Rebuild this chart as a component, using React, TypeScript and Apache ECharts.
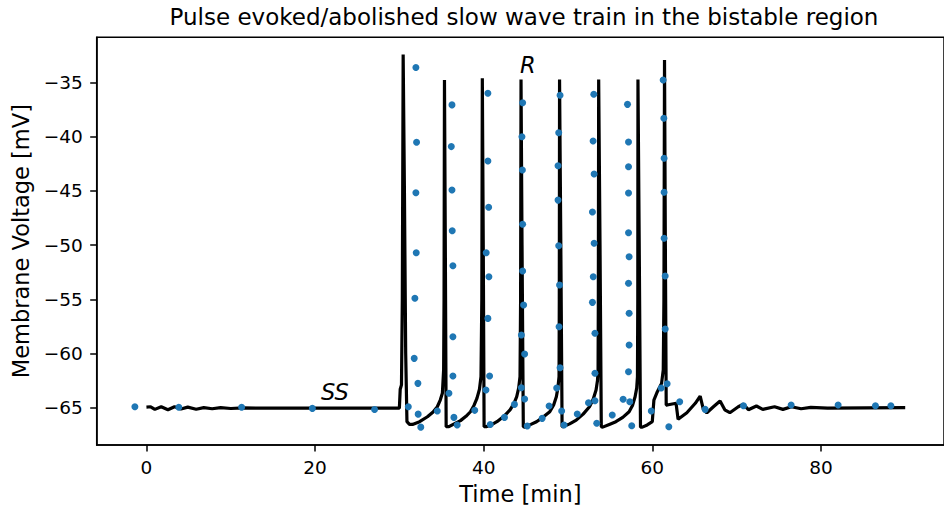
import React, { useEffect, useRef } from "react";
import * as echarts from "echarts";

// ---- data ----
const traceTime: number[] = [
  0.0, 0.5, 1.0, 1.75, 2.55, 3.33, 4.1, 4.9, 5.9, 6.8, 7.8, 8.8, 10.0, 11.5, 13.0, 30.0,
  30.1, 30.25, 30.35, 30.45, 30.6, 30.75, 30.9, 31.2, 31.56, 32.4, 33.33, 34.0, 34.5, 34.85, 35.1, 35.25, 35.3, 35.35, 35.45, 35.55,
  35.88, 36.5, 37.25, 37.9, 38.43, 38.85, 39.2, 39.5, 39.68, 39.78, 39.84, 39.95, 40.05,
  40.3, 41.0, 41.57, 42.4, 43.13, 43.6, 43.92, 44.15, 44.31, 44.38, 44.43, 44.55, 44.7,
  44.9, 45.6, 46.27, 47.1, 47.84, 48.3, 48.62, 48.8, 48.94, 48.97, 49.0, 49.15, 49.3,
  49.41, 50.2, 50.98, 51.8, 52.55, 53.0, 53.33, 53.5, 53.57, 53.6, 53.64, 53.8, 53.95,
  54.12, 54.9, 55.68, 56.5, 57.25, 57.65, 57.96, 58.15, 58.24, 58.28, 58.3, 58.45, 58.6,
  58.82, 59.4, 60.0, 60.07, 60.19, 60.6, 61.1, 61.3, 61.38, 61.45, 61.55, 61.65,
  61.76, 62.82, 63.06, 64.1, 65.1, 65.68, 66.07, 66.47, 67.25, 68.04, 68.6, 69.2, 70.2, 70.8, 71.4,
  72.35, 73.1, 74.5, 75.5, 76.5, 77.65, 78.8, 80.8, 90.0,
];
const traceVoltage: number[] = [
  -64.95, -64.92, -65.16, -64.92, -65.2, -64.92, -65.12, -64.95, -65.15, -65.0, -65.1, -65.0, -65.08, -65.02, -65.05, -65.05,
  -63.3, -62.9, -55, -32.4, -45, -60, -66.3, -66.55, -66.55, -66.3, -65.84, -65.4, -64.92, -64.3, -63.68, -61.5, -55, -34.75, -50, -66.76,
  -66.76, -66.5, -66.2, -65.8, -65.38, -64.8, -64.14, -63.3, -62.15, -55, -34.6, -50, -66.76,
  -66.76, -66.55, -66.3, -65.8, -65.2, -64.6, -63.99, -63.2, -62.15, -55, -34.7, -50, -66.76,
  -66.8, -66.55, -66.3, -65.85, -65.38, -64.75, -64.0, -63.2, -62.15, -55, -34.7, -50, -66.76,
  -66.76, -66.5, -66.15, -65.6, -64.92, -64.2, -63.38, -62.5, -61.53, -55, -34.7, -50, -66.76,
  -66.8, -66.55, -66.3, -65.9, -65.38, -64.8, -64.0, -63.2, -62.15, -55, -34.7, -50, -66.8,
  -66.8, -66.6, -66.3, -66.3, -64.3, -63.53, -62.76, -61.53, -55, -32.9, -50, -64.76,
  -64.76, -64.6, -66.08, -65.47, -64.6, -63.93, -65.2, -65.47, -64.92, -64.39, -65.2, -65.47, -64.92, -64.67, -65.2,
  -64.85, -65.16, -64.92, -65.16, -64.92, -65.1, -64.98, -65.05, -65.0,
];

const sampleTime: number[] = [
  -1.37, 3.84, 11.29, 19.68, 27.06,
  31.06, 31.96, 32.04, 31.96, 32.0, 31.84, 31.76, 32.2, 32.23, 32.54, 34.5, 35.88,
  36.24, 36.16, 36.24, 36.27, 36.35, 36.35, 36.35, 36.47, 36.86, 38.94,
  40.5, 40.5, 40.59, 40.3, 40.62, 40.5, 40.7, 40.27, 40.78, 42.47, 43.65,
  44.62, 44.54, 44.59, 44.62, 44.62, 44.74, 44.47, 44.86, 44.47, 44.86, 45.17, 46.94, 47.76,
  49.06, 48.9, 48.82, 48.82, 48.9, 49.0, 48.94, 49.06, 48.66, 49.25, 49.53, 51.1, 52.43,
  53.06, 52.98, 53.1, 52.9, 53.1, 53.0, 52.9, 53.2, 53.2, 53.2, 53.41, 55.25, 56.54,
  57.06, 57.18, 57.18, 57.18, 57.18, 57.25, 57.18, 57.25, 57.25, 57.18, 57.33, 57.56, 59.88,
  61.29, 61.37, 61.4, 61.4, 61.4, 61.53, 61.53, 61.06, 61.76, 61.96, 63.25,
  66.27, 70.82, 76.47, 82.04, 86.47, 88.3,
];
const sampleVoltage: number[] = [
  -64.92, -64.97, -64.97, -65.07, -65.18,
  -64.92, -33.6, -40.5, -45.16, -50.7, -54.9, -60.45, -62.76, -65.6, -66.8, -65.31, -63.68,
  -37.05, -40.9, -44.9, -48.67, -51.9, -58.45, -62.08, -65.9, -66.6, -65.25,
  -35.98, -42.23, -46.5, -50.7, -52.91, -56.76, -62.08, -63.37, -66.55, -65.9, -64.7,
  -36.85, -39.99, -43.06, -48.07, -52.39, -55.53, -58.3, -60.05, -63.16, -64.2, -66.7, -65.99, -64.85,
  -36.16, -39.62, -42.67, -45.84, -50.05, -53.68, -57.53, -61.32, -63.19, -65.31, -66.6, -65.59, -64.55,
  -36.07, -40.38, -43.43, -46.94, -49.83, -52.91, -55.28, -58.14, -61.83, -64.36, -66.45, -65.68, -64.23,
  -37.0, -40.48, -42.76, -45.19, -48.85, -51.07, -53.52, -56.29, -59.22, -61.68, -64.45, -66.67, -65.31,
  -34.75, -38.29, -41.98, -45.12, -49.37, -52.85, -57.74, -63.19, -62.8, -66.76, -64.45,
  -65.16, -64.82, -64.76, -64.76, -64.82, -64.82,
];

const annotationText: string[] = ["SS", "R"];
const annotationTime: number[] = [22.35, 45.24];
const annotationVoltage: number[] = [-63.56, -33.37];

const xTicks: number[] = [0, 20, 40, 60, 80];
const yTicks: number[] = [-65, -60, -55, -50, -45, -40, -35];

const TITLE = "Pulse evoked/abolished slow wave train in the bistable region";
const X_LABEL = "Time [min]";
const Y_LABEL = "Membrane Voltage [mV]";

const FONT = "DejaVu Sans";

export default function App() {
  const ref = useRef<HTMLDivElement>(null);
  useEffect(() => {
    if (!ref.current) return;
    const chart = echarts.init(ref.current, undefined, { renderer: "svg" });
    const trace = traceTime.map((t, i) => [t, traceVoltage[i]]);
    const samples = sampleTime.map((t, i) => [t, sampleVoltage[i]]);
    const notes = annotationText.map((s, i) => ({
      name: s,
      value: [annotationTime[i], annotationVoltage[i]],
    }));
    const axisCommon = {
      axisLine: { show: true, onZero: false, lineStyle: { color: "#000", width: 1.5 } },
      splitLine: { show: false },
    };
    chart.setOption({
      animation: false,
      backgroundColor: "#fff",
      title: {
        text: TITLE,
        left: 524,
        top: 5,
        padding: 0,
        textAlign: "center",
        textStyle: { fontFamily: FONT, fontSize: 23, fontWeight: "normal", color: "#000" },
      },
      grid: {
        left: 96.7,
        top: 37.3,
        width: 854.2,
        height: 407.7,
        show: true,
        borderColor: "#000",
        borderWidth: 1.5,
        backgroundColor: "transparent",
      },
      xAxis: {
        type: "value",
        min: -5.9,
        max: 94.6,
        ...axisCommon,
        axisTick: { show: true, length: 6.5, lineStyle: { color: "#000", width: 1.5 }, customValues: xTicks },
        axisLabel: {
          customValues: xTicks,
          margin: 13,
          fontFamily: FONT,
          fontSize: 18.5,
          color: "#000",
        },
        name: X_LABEL,
        nameLocation: "middle",
        nameGap: 37,
        nameTextStyle: { fontFamily: FONT, fontSize: 22.5, color: "#000" },
      },
      yAxis: {
        type: "value",
        min: -68.45,
        max: -30.81,
        ...axisCommon,
        axisTick: { show: true, length: 6.5, lineStyle: { color: "#000", width: 1.5 }, customValues: yTicks },
        axisLabel: {
          customValues: yTicks,
          margin: 14,
          fontFamily: FONT,
          fontSize: 18.5,
          color: "#000",
          formatter: (v: number) => String(v).replace("-", "\u2212"),
        },
        name: Y_LABEL,
        nameLocation: "middle",
        nameRotate: 90,
        nameGap: 62,
        nameTextStyle: { fontFamily: FONT, fontSize: 22.5, color: "#000" },
      },
      series: [
        {
          type: "line",
          data: trace,
          showSymbol: false,
          symbol: "none",
          lineStyle: { color: "#000", width: 3.2 },
          z: 2,
        },
        {
          type: "scatter",
          data: samples,
          symbol: "circle",
          symbolSize: 7,
          itemStyle: { color: "#1f77b4", opacity: 1 },
          z: 3,
        },
        {
          type: "scatter",
          data: notes,
          symbolSize: 0,
          z: 4,
          itemStyle: { opacity: 1 },
          label: {
            show: true,
            position: "inside",
            formatter: (p: any) => p.name,
            fontFamily: FONT,
            fontStyle: "italic",
            fontSize: 22.5,
            color: "#000000",
            opacity: 1,
            textBorderWidth: 0,
          },
        },
      ],
    });
    return () => chart.dispose();
  }, []);
  return (
    <div
      ref={ref}
      style={{ position: "absolute", left: 0, top: 0, width: 944, height: 510, background: "#fff" }}
    />
  );
}
